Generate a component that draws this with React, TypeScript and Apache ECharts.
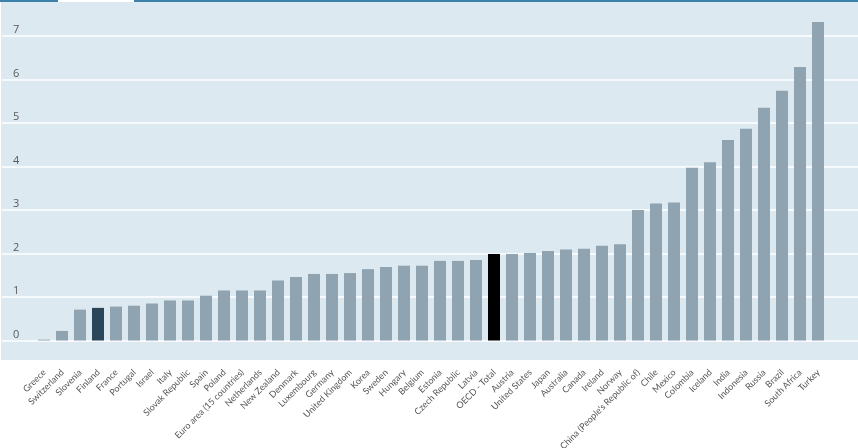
import React, { useEffect, useRef } from "react";
import * as echarts from "echarts";

const categories = [
  "Greece", "Switzerland", "Slovenia", "Finland", "France", "Portugal", "Israel", "Italy",
  "Slovak Republic", "Spain", "Poland", "Euro area (15 countries)", "Netherlands", "New Zealand",
  "Denmark", "Luxembourg", "Germany", "United Kingdom", "Korea", "Sweden", "Hungary", "Belgium",
  "Estonia", "Czech Republic", "Latvia", "OECD - Total", "Austria", "United States", "Japan",
  "Australia", "Canada", "Ireland", "Norway", "China (People's Republic of)", "Chile", "Mexico",
  "Colombia", "Iceland", "India", "Indonesia", "Russia", "Brazil", "South Africa", "Turkey",
];

const values = [
  0.02, 0.22, 0.71, 0.75, 0.78, 0.8, 0.85, 0.92,
  0.92, 1.03, 1.15, 1.15, 1.15, 1.38,
  1.46, 1.53, 1.53, 1.55, 1.64, 1.69, 1.72, 1.72,
  1.83, 1.83, 1.85, 1.99, 1.99, 2.01, 2.06,
  2.09, 2.11, 2.18, 2.21, 3.0, 3.15, 3.17,
  3.97, 4.1, 4.61, 4.87, 5.35, 5.74, 6.29, 7.32,
];

const yTicks = [0, 1, 2, 3, 4, 5, 6, 7];

const highlightColors: Record<string, string> = {
  Finland: "#2b4559",
  "OECD - Total": "#000000",
};

const BAR_COLOR = "#8fa3b0";

export default function App() {
  const ref = useRef<HTMLDivElement>(null);

  useEffect(() => {
    if (!ref.current) return;
    const chart = echarts.init(ref.current, undefined, { renderer: "svg" });
    const yMax = yTicks[yTicks.length - 1] + 1;
    chart.setOption({
      animation: false,
      graphic: [
        {
          type: "rect",
          z: -10,
          shape: { x: 1, y: 2, width: 857, height: 358 },
          style: { fill: "#dde9f1" },
          silent: true,
        },
        {
          type: "line",
          z: 10,
          shape: { x1: 0, y1: 1, x2: 58, y2: 1 },
          style: { stroke: "#3d81aa", lineWidth: 2 },
          silent: true,
        },
        {
          type: "line",
          z: 10,
          shape: { x1: 134, y1: 1, x2: 858, y2: 1 },
          style: { stroke: "#3d81aa", lineWidth: 2 },
          silent: true,
        },
      ],
      grid: [
        { left: 2, right: 0, top: -7.5, bottom: 107.5, containLabel: false, outerBoundsMode: "none" },
        { left: 35, right: 31, top: -7.5, bottom: 107.5, containLabel: false, outerBoundsMode: "none" },
      ],
      xAxis: [
        { type: "value", gridIndex: 0, show: false, min: 0, max: 1 },
        {
          type: "category",
          gridIndex: 1,
          data: categories,
          axisLine: { show: false },
          axisTick: { show: false },
          axisLabel: {
            interval: 0,
            rotate: 45,
            margin: 30,
            fontSize: 9,
            color: "#555555",
            fontFamily: "Lato, 'Liberation Sans', sans-serif",
          },
        },
      ],
      yAxis: [
        {
          type: "value",
          gridIndex: 0,
          min: 0,
          max: yMax,
          interval: 1,
          axisLine: { show: false },
          axisTick: { show: false },
          splitLine: { show: true, lineStyle: { color: "#ffffff", width: 1.5 } },
          axisLabel: {
            inside: true,
            margin: 11,
            fontSize: 11,
            color: "#595959",
            verticalAlign: "bottom",
            padding: [0, 0, 2, 0],
            fontFamily: "'Open Sans', sans-serif",
            formatter: (v: number) => (yTicks.includes(v) ? String(v) : ""),
          },
        },
        {
          type: "value",
          gridIndex: 1,
          min: 0,
          max: yMax,
          interval: 1,
          show: false,
          splitLine: { show: false },
        },
      ],
      series: [
        {
          type: "bar",
          xAxisIndex: 1,
          yAxisIndex: 1,
          barWidth: 12,
          data: values.map((v, i) => ({
            value: v,
            itemStyle: { color: highlightColors[categories[i]] || BAR_COLOR },
          })),
        },
      ],
    });
    return () => chart.dispose();
  }, []);

  return (
    <div
      ref={ref}
      style={{ position: "fixed", left: 0, top: 0, width: 858, height: 448 }}
    />
  );
}
